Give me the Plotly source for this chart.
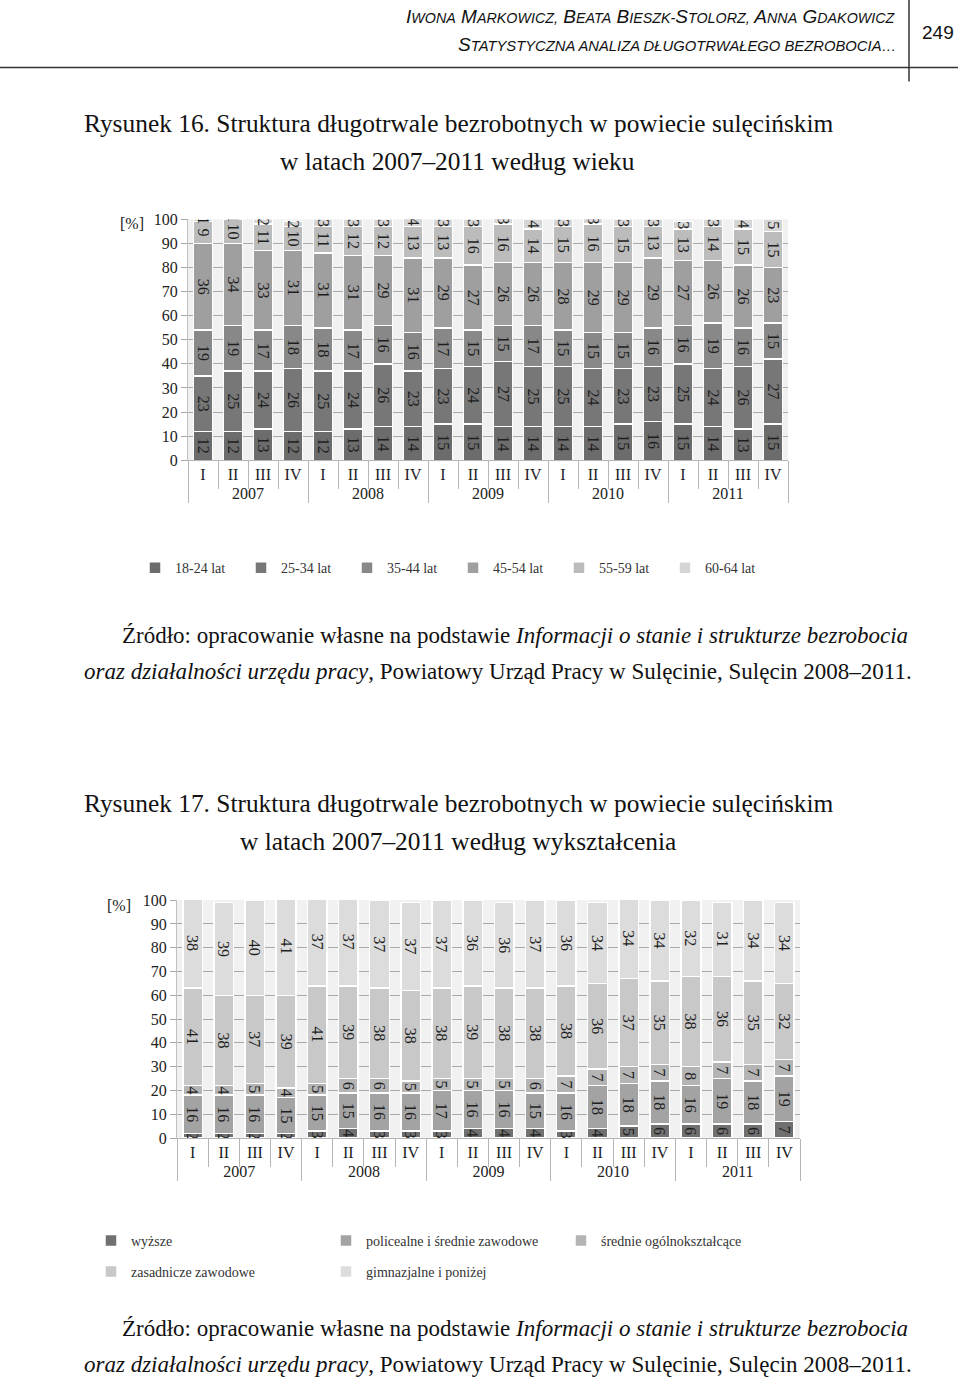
import plotly.graph_objects as go

W, H = 960, 1381
# observed page placement: shown_y = 0.988 * figure_y + 8.6  -> invert it
Y_SCALE, Y_OFF = 0.988, 8.6

# ---------------- data ----------------
years = ["2007"] * 4 + ["2008"] * 4 + ["2009"] * 4 + ["2010"] * 4 + ["2011"] * 4
quarters = ["I", "II", "III", "IV"] * 5

age_labels = ["18-24 lat", "25-34 lat", "35-44 lat", "45-54 lat", "55-59 lat", "60-64 lat"]
age_18_24 = [12, 12, 13, 12, 12, 13, 14, 14, 15, 15, 14, 14, 14, 14, 15, 16, 15, 14, 13, 15]
age_25_34 = [23, 25, 24, 26, 25, 24, 26, 23, 23, 24, 27, 25, 25, 24, 23, 23, 25, 24, 26, 27]
age_35_44 = [19, 19, 17, 18, 18, 17, 16, 16, 17, 15, 15, 17, 15, 15, 15, 16, 16, 19, 16, 15]
age_45_54 = [36, 34, 33, 31, 31, 31, 29, 31, 29, 27, 26, 26, 28, 29, 29, 29, 27, 26, 26, 23]
age_55_59 = [9, 10, 11, 10, 11, 12, 12, 13, 13, 16, 16, 14, 15, 16, 15, 13, 13, 14, 15, 15]
age_60_64 = [1, 1, 2, 2, 3, 3, 3, 4, 3, 3, 3, 4, 3, 3, 3, 3, 3, 3, 4, 5]

edu_labels = ["wyższe", "policealne i średnie zawodowe", "średnie ogólnokształcące",
              "zasadnicze zawodowe", "gimnazjalne i poniżej"]
edu_wyzsze = [2, 2, 2, 2, 3, 4, 3, 3, 3, 4, 4, 4, 3, 4, 5, 6, 6, 6, 6, 7]
edu_policealne = [16, 16, 16, 15, 15, 15, 16, 16, 17, 16, 16, 15, 16, 18, 18, 18, 16, 19, 18, 19]
edu_srednie = [4, 4, 5, 4, 5, 6, 6, 5, 5, 5, 5, 6, 7, 7, 7, 7, 8, 7, 7, 7]
edu_zasadnicze = [41, 38, 37, 39, 41, 39, 38, 38, 38, 39, 38, 38, 38, 36, 37, 35, 38, 36, 35, 32]
edu_gimnazjalne = [38, 39, 40, 41, 37, 37, 37, 37, 37, 36, 36, 37, 36, 34, 34, 34, 32, 31, 34, 34]

y_ticks = [0, 10, 20, 30, 40, 50, 60, 70, 80, 90, 100]

# ---------------- styles ----------------
age_colors = ["#6c6c6c", "#777777", "#888888", "#9f9f9f", "#bcbcbc", "#d5d5d5"]
edu_colors = ["#707070", "#a3a3a3", "#b4b4b4", "#c8c8c8", "#dcdcdc"]
SERIF = "Liberation Serif"
SANS = "Liberation Sans"


def px_x(p):
    return p / W


def px_y(p):
    return 1 - ((p - Y_OFF) / Y_SCALE) / H


fig = go.Figure()

age_series = [age_18_24, age_25_34, age_35_44, age_45_54, age_55_59, age_60_64]
for name, vals, col in zip(age_labels, age_series, age_colors):
    fig.add_trace(go.Bar(
        x=[years, quarters], y=vals, name=name,
        marker=dict(color=col, line=dict(color="white", width=1.5)),
        text=[str(v) for v in vals], textposition="inside", textangle=90,
        insidetextanchor="middle",
        textfont=dict(family=SERIF, size=16, color="#1e1e1e"),
        xaxis="x", yaxis="y", legend="legend", hoverinfo="skip",
    ))

edu_series = [edu_wyzsze, edu_policealne, edu_srednie, edu_zasadnicze, edu_gimnazjalne]
for i, (name, vals, col) in enumerate(zip(edu_labels, edu_series, edu_colors)):
    fig.add_trace(go.Bar(
        x=[years, quarters], y=vals, name=name,
        marker=dict(color=col, line=dict(color="white", width=1.5)),
        text=[str(v) for v in vals], textposition="inside", textangle=90,
        insidetextanchor="middle",
        textfont=dict(family=SERIF, size=16, color="#1e1e1e"),
        xaxis="x2", yaxis="y2", legend="legend2" if i < 3 else "legend3",
        hoverinfo="skip",
    ))

xaxis_common = dict(
    type="multicategory", showgrid=False, showline=True, linecolor="#b5b5b5",
    ticks="outside", tickson="boundaries", ticklen=28, tickcolor="#b5b5b5",
    dividercolor="#b5b5b5", dividerwidth=1,
    tickfont=dict(family=SERIF, size=16, color="#222222"),
)
yaxis_common = dict(
    range=[0, 100], tickvals=y_ticks, showgrid=True, gridcolor="#a9a9a9",
    gridwidth=1, zeroline=False, ticks="outside", ticklen=6, tickcolor="#a9a9a9",
    showline=True, linecolor="#c0c0c0",
    tickfont=dict(family=SERIF, size=16, color="#222222"),
)

legend_common = dict(
    orientation="h", xanchor="left", yanchor="middle", traceorder="normal",
    font=dict(family=SERIF, size=14, color="#333333"),
    bgcolor="rgba(0,0,0,0)", borderwidth=0, entrywidthmode="pixels", itemwidth=30,
)

annotations = []


def add_text(text, x, y, size, family=SERIF, anchor="left", color="#111111"):
    annotations.append(dict(
        text=text, x=px_x(x), y=px_y(y), xref="paper", yref="paper",
        xanchor=anchor, yanchor="middle", showarrow=False,
        font=dict(family=family, size=size, color=color),
    ))


def small_caps(s, big, small):
    out = []
    word_start = True
    for ch in s:
        if ch.isalpha():
            size = big if word_start else small
            out.append('<span style="font-size:%spx">%s</span>' % (size, ch.upper()))
            word_start = False
        else:
            size = big if ch == " " else small
            out.append('<span style="font-size:%spx">%s</span>' % (size, ch))
            word_start = ch in " -"
    return "".join(out)


# header
add_text("<i>" + small_caps("Iwona Markowicz, Beata Bieszk-Stolorz, Anna Gdakowicz", 19, 14.3) + "</i>",
         898, 17, 19, family=SANS, anchor="right")
add_text("<i>S" + '<span style="font-size:14.8px">TATYSTYCZNA ANALIZA DŁUGOTRWAŁEGO BEZROBOCIA…</span></i>',
         898, 45, 19, family=SANS, anchor="right")
add_text("249", 938, 33, 19, family=SANS, anchor="center")

# captions
add_text("Rysunek 16. Struktura długotrwale bezrobotnych w powiecie sulęcińskim", 82, 124, 25.4)
add_text("w latach 2007–2011 według wieku", 278, 162, 25.4)
add_text("Źródło: opracowanie własne na podstawie <i>Informacji o stanie i strukturze bezrobocia</i>",
         120, 636, 23)
add_text("<i>oraz działalności urzędu pracy</i>, Powiatowy Urząd Pracy w Sulęcinie, Sulęcin 2008–2011.",
         82, 672, 23)
add_text("Rysunek 17. Struktura długotrwale bezrobotnych w powiecie sulęcińskim", 82, 804, 25.4)
add_text("w latach 2007–2011 według wykształcenia", 238, 842, 25.4)
add_text("Źródło: opracowanie własne na podstawie <i>Informacji o stanie i strukturze bezrobocia</i>",
         120, 1330, 23)
add_text("<i>oraz działalności urzędu pracy</i>, Powiatowy Urząd Pracy w Sulęcinie, Sulęcin 2008–2011.",
         82, 1366, 23)

# axis unit labels
add_text("[%]", 118, 224, 16, color="#222222")
add_text("[%]", 105, 906, 16, color="#222222")

shapes = [
    dict(type="line", xref="paper", yref="paper", x0=0, x1=px_x(958), y0=px_y(68), y1=px_y(68),
         line=dict(color="#333333", width=1.5)),
    dict(type="line", xref="paper", yref="paper", x0=px_x(909), x1=px_x(909), y0=px_y(0), y1=px_y(82),
         line=dict(color="#333333", width=1.5)),
]

fig.update_layout(
    width=W, height=H, autosize=False,
    margin=dict(l=0, r=0, t=0, b=0),
    paper_bgcolor="white", plot_bgcolor="#f1f1f1",
    barmode="stack", bargap=0.37,
    uniformtext=dict(minsize=16, mode="show"),
    xaxis=dict(domain=[px_x(188), px_x(788)], anchor="y", **xaxis_common),
    yaxis=dict(domain=[px_y(461), px_y(220)], anchor="x", **yaxis_common),
    xaxis2=dict(domain=[px_x(177), px_x(800)], anchor="y2", **xaxis_common),
    yaxis2=dict(domain=[px_y(1139), px_y(901)], anchor="x2", **yaxis_common),
    legend=dict(x=px_x(135), y=px_y(569), entrywidth=61, **legend_common),
    legend2=dict(x=px_x(91), y=px_y(1242), entrywidth=190, **legend_common),
    legend3=dict(x=px_x(91), y=px_y(1273), entrywidth=190, **legend_common),
    annotations=annotations,
    shapes=shapes,
    showlegend=True,
)

fig.write_html("out.html")
